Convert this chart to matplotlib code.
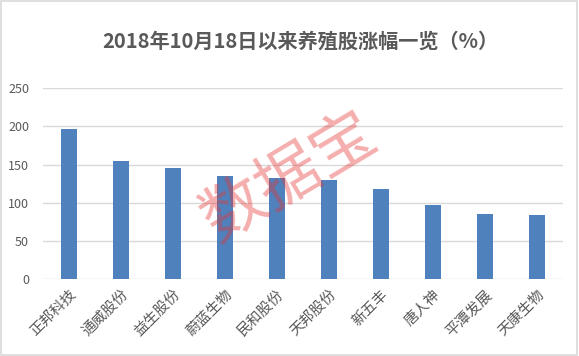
import matplotlib
matplotlib.use("Agg")
import matplotlib.pyplot as plt
from matplotlib.patches import Rectangle

plt.rcParams['font.family'] = ['Noto Sans CJK SC', 'DejaVu Sans']

title = "2018年10月18日以来养殖股涨幅一览（%）"
categories = ["正邦科技", "通威股份", "益生股份", "蔚蓝生物", "民和股份",
              "天邦股份", "新五丰", "唐人神", "平潭发展", "天康生物"]
values = [197, 155, 145.5, 135, 132.5, 130, 118, 97, 85, 84]
yticks = [0, 50, 100, 150, 200, 250]
watermark = "数据宝"

fig = plt.figure(figsize=(5.79, 3.56), dpi=100)
ax = fig.add_axes([0.0743, 0.2163, 0.8981, 0.5357])

x = list(range(len(categories)))
ax.bar(x, values, width=0.32, color="#4F81BD", zorder=2)
ax.set_xlim(-0.5, len(categories) - 0.5)
ax.set_ylim(0, 250)
ax.set_yticks(yticks)
ax.set_yticklabels([str(t) for t in yticks], color="#595959", fontsize=9)
ax.yaxis.grid(True, color="#D9D9D9", linewidth=1, zorder=0)
ax.set_axisbelow(True)
ax.tick_params(axis='both', length=0)
ax.tick_params(axis='y', pad=10)
for s in ax.spines.values():
    s.set_visible(False)
ax.set_xticks(x)
ax.set_xticklabels(categories, rotation=45, ha='right', rotation_mode='anchor',
                   color="#595959", fontsize=10.5)
ax.tick_params(axis='x', pad=6)

fig.text(0.518, 0.885, title, ha='center', va='center', fontsize=14.5,
         fontweight='bold', color="#595959")

fig.text(0.5, 0.5, watermark, ha='center', va='center', fontsize=46,
         rotation=31, color=(0.9, 0.2, 0.2), alpha=0.4, zorder=10)

fig.patches.append(Rectangle((0.001, 0.002), 0.996, 0.996, transform=fig.transFigure,
                             fill=False, edgecolor="#D9D9D9", linewidth=1.2))

fig.savefig("out.png", dpi=100)
